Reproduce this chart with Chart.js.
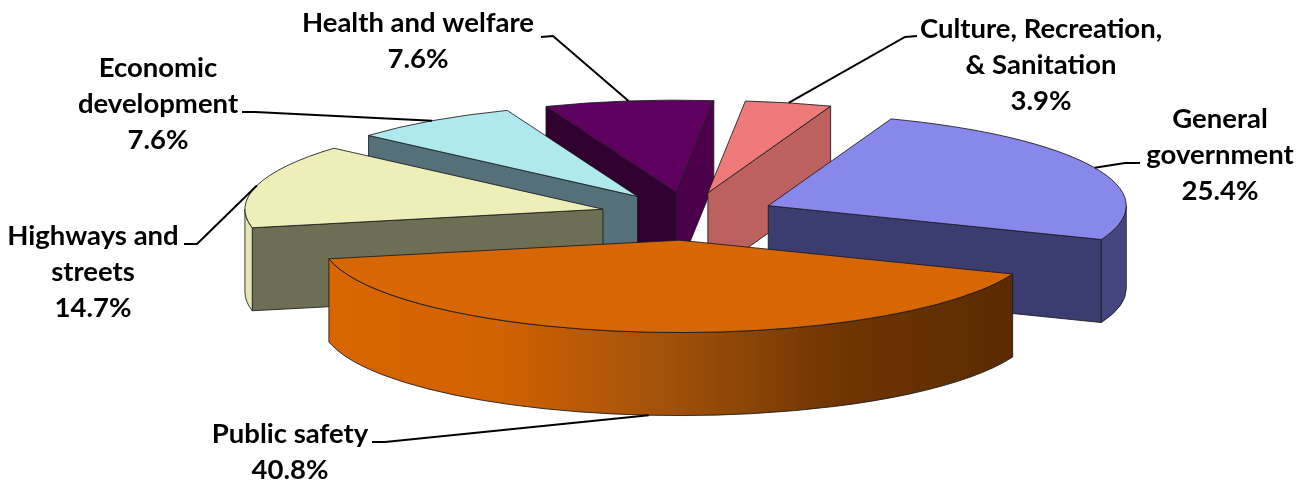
<!DOCTYPE html>
<html>
<head>
<meta charset="utf-8">
<title>Expenditures by function</title>
<script src="https://cdn.jsdelivr.net/npm/chart.js@4"></script>
<style>
    html, body { margin: 0; padding: 0; background: #fff; }
    canvas { display: block; }
</style>
</head>
<body>
<canvas id="pieChart" width="1312" height="480"></canvas>
<script>
const CATEGORIES = ['Public safety', 'Highways and streets', 'Economic development',
    'Health and welfare', 'Culture, Recreation, & Sanitation', 'General government'];
const VALUES = [40.8, 14.7, 7.6, 7.6, 3.9, 25.4];

// label text, one row per line
const LABEL_LINES = [
    ['Public safety', '40.8%'],
    ['Highways and', 'streets', '14.7%'],
    ['Economic', 'development', '7.6%'],
    ['Health and welfare', '7.6%'],
    ['Culture, Recreation,', '& Sanitation', '3.9%'],
    ['General', 'government', '25.4%'],
];

const TOP_COLORS = ['#d76604', '#eeeeb9', '#afe9ed', '#5e005e', '#ef7a7a', '#8888ea'];
const WALL_COLORS = ['#5c2c00', '#6e6e55', '#56707a', '#30002f', '#bd6060', '#3b3d70'];
const END_WALL_COLORS = ['#5c2c00', '#6e6e55', '#56707a', '#4c004c', '#bd6060', '#3b3d70'];
const RIM_COLORS = [null, '#e6e6b2', '#56707a', '#30002f', '#bd6060', '#44467f'];

const ROTATION = 111.5;
const RADIUS = 358;
const SQUASH = 0.258;
const DEPTH = 83;
const EXPLODE = [98, 88, 88, 88, 88, 88];
const PAINT_ORDER = [3, 4, 2, 1, 5, 0];
const OUTLINE = 'rgba(25,25,30,0.85)';

const FONT = 'bold 27.5px Lato';
const LINE_HEIGHT = 36;
// centre x and first baseline of each label block
const LABEL_POS = [[290, 443], [93, 245], [158, 77], [418, 32], [1041, 38], [1220, 128]];
// text-side points of each leader line
const LEADER_POS = [
    [[372, 442], [385, 442]],
    [[184, 244], [197, 244]],
    [[242, 112], [255, 112]],
    [[541, 37], [553, 36]],
    [[917, 36], [905, 37]],
    [[1140, 163], [1125, 163]],
];

function sliceGeometry(arc, i) {
    const mid = (arc.startAngle + arc.endAngle) / 2;
    return {
        x: arc.x + Math.cos(mid) * EXPLODE[i],
        y: arc.y + Math.sin(mid) * EXPLODE[i] * SQUASH,
        mid: mid,
        start: arc.startAngle,
        end: arc.endAngle,
        rx: arc.outerRadius,
        ry: arc.outerRadius * SQUASH,
    };
}

function drawWall(ctx, g, angle, color) {
    const px = g.x + Math.cos(angle) * g.rx;
    const py = g.y + Math.sin(angle) * g.ry;
    ctx.beginPath();
    ctx.moveTo(g.x, g.y);
    ctx.lineTo(px, py);
    ctx.lineTo(px, py + DEPTH);
    ctx.lineTo(g.x, g.y + DEPTH);
    ctx.closePath();
    ctx.fillStyle = color;
    ctx.fill();
    ctx.stroke();
}

function drawRim(ctx, g, color) {
    // only the part of the outer edge facing the viewer
    for (let k = 0; k < 2; k++) {
        const a = Math.max(g.start, k * 2 * Math.PI);
        const b = Math.min(g.end, k * 2 * Math.PI + Math.PI);
        if (b <= a) continue;
        ctx.beginPath();
        ctx.ellipse(g.x, g.y, g.rx, g.ry, 0, a, b);
        ctx.ellipse(g.x, g.y + DEPTH, g.rx, g.ry, 0, b, a, true);
        ctx.closePath();
        ctx.fillStyle = color;
        ctx.fill();
        ctx.stroke();
    }
}

function rimGradient(ctx, g) {
    const x0 = g.x + Math.cos(g.end) * g.rx;
    const x1 = g.x + Math.cos(g.start) * g.rx;
    const grad = ctx.createLinearGradient(x0, 0, x1, 0);
    grad.addColorStop(0, '#d86600');
    grad.addColorStop(0.25, '#d06200');
    grad.addColorStop(0.5, '#a0510a');
    grad.addColorStop(0.75, '#6f3502');
    grad.addColorStop(1, '#5a2b00');
    return grad;
}

const pie3d = {
    id: 'pie3d',
    beforeDatasetsDraw(chart) {
        const ctx = chart.ctx;
        const arcs = chart.getDatasetMeta(0).data;
        ctx.save();
        ctx.lineWidth = 1;
        ctx.strokeStyle = OUTLINE;
        ctx.lineJoin = 'round';

        for (const i of PAINT_ORDER) {
            const arc = arcs[i];
            const g = sliceGeometry(arc, i);
            if (Math.cos(g.start) < 0) drawWall(ctx, g, g.start, WALL_COLORS[i]);
            if (Math.cos(g.end) > 0) drawWall(ctx, g, g.end, END_WALL_COLORS[i]);
            drawRim(ctx, g, RIM_COLORS[i] || rimGradient(ctx, g));

            // top face comes from the library's arc, flattened
            ctx.save();
            ctx.translate(g.x, g.y);
            ctx.scale(1, SQUASH);
            ctx.translate(-arc.x, -arc.y);
            arc.draw(ctx);
            ctx.restore();

            ctx.beginPath();
            ctx.moveTo(g.x, g.y);
            ctx.ellipse(g.x, g.y, g.rx, g.ry, 0, g.start, g.end);
            ctx.closePath();
            ctx.stroke();
        }
        ctx.restore();
        return false;
    },
    afterDraw(chart) {
        const ctx = chart.ctx;
        const arcs = chart.getDatasetMeta(0).data;
        ctx.save();
        ctx.strokeStyle = '#000';
        ctx.lineWidth = 2;
        ctx.fillStyle = '#000';
        ctx.font = FONT;
        ctx.textAlign = 'center';
        ctx.textBaseline = 'alphabetic';

        LABEL_LINES.forEach((lines, i) => {
            const g = sliceGeometry(arcs[i], i);
            const tipX = g.x + Math.cos(g.mid) * g.rx;
            let tipY = g.y + Math.sin(g.mid) * g.ry;
            if (i == 0) tipY += DEPTH;

            ctx.beginPath();
            LEADER_POS[i].forEach((p, k) => k == 0 ? ctx.moveTo(p[0], p[1]) : ctx.lineTo(p[0], p[1]));
            ctx.lineTo(tipX, tipY);
            ctx.stroke();

            lines.forEach((line, k) => {
                ctx.fillText(line, LABEL_POS[i][0], LABEL_POS[i][1] + k * LINE_HEIGHT);
            });
        });
        ctx.restore();
    },
};

new Chart(document.getElementById('pieChart').getContext('2d'), {
    type: 'pie',
    data: {
        labels: CATEGORIES,
        datasets: [{
            data: VALUES,
            backgroundColor: TOP_COLORS,
            borderWidth: 0,
        }],
    },
    options: {
        responsive: false,
        animation: false,
        rotation: ROTATION,
        radius: RADIUS,
        layout: { padding: { left: 64, bottom: 50 } },
        plugins: {
            legend: { display: false },
            tooltip: { enabled: false },
        },
    },
    plugins: [pie3d],
});
</script>
</body>
</html>
